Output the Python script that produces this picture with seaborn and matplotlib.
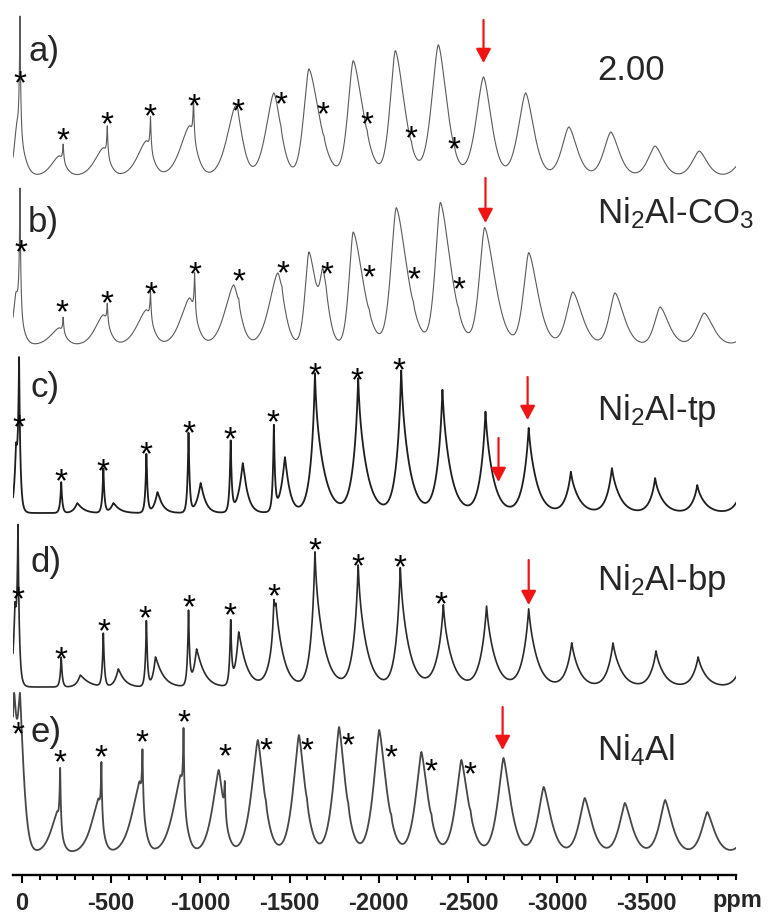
import numpy as np
import pandas as pd
import matplotlib
matplotlib.use("Agg")
import matplotlib.pyplot as plt
from matplotlib.ticker import MultipleLocator
from matplotlib.textpath import TextPath
from matplotlib.font_manager import FontProperties
import seaborn as sns

# ---------------- data (ppm positions, intensities in a.u.) ----------------
tick_vals = [0, -500, -1000, -1500, -2000, -2500, -3000, -3500]
tick_labels = ["0", "-500", "-1000", "-1500", "-2000", "-2500", "-3000", "-3500"]

panel_letters = ["a)", "b)", "c)", "d)", "e)"]
sample_names = ["2.00", r"Ni$_\mathregular{2}$Al-CO$_\mathregular{3}$",
                r"Ni$_\mathregular{2}$Al-tp", r"Ni$_\mathregular{2}$Al-bp",
                r"Ni$_\mathregular{4}$Al"]

# broad sideband envelope: centre, height, left reach, right reach (ppm)
a_bpos = [26, -210, -457, -698, -940, -1198, -1412, -1608, -1856, -2092, -2333, -2586, -2822, -3064, -3299, -3547, -3794, -4035]
a_bh = [52, 20, 28, 35, 50, 70, 83, 107, 115, 125, 131, 99, 83, 49, 44, 30, 25, 15]
a_bwl = [45, 124, 135, 140, 146, 135, 124, 84, 84, 84, 107, 118, 118, 112, 112, 112, 112, 112]
a_bwr = [90, 90, 90, 96, 101, 101, 112, 163, 157, 146, 135, 124, 129, 129, 129, 124, 124, 124]
a_spos = [10, -232, -479, -721, -962, -1210, -1451, -1693, -1934, -2182, -2423]
a_sh = [123, 18, 30, 35, 40, 4, 3, 3, 3, 3, 3]

b_bpos = [32, -210, -457, -698, -940, -1187, -1434, -1608, -1687, -1856, -2097, -2344, -2592, -2839, -3086, -3322, -3575, -3822, -4064]
b_bh = [52, 17, 30, 35, 47, 60, 72, 93, 55, 113, 137, 142, 117, 92, 53, 52, 38, 32, 12]
b_bwl = [45, 135, 129, 146, 140, 140, 135, 62, 45, 67, 84, 79, 84, 84, 101, 90, 90, 112, 101]
b_bwr = [79, 90, 90, 96, 101, 101, 101, 124, 84, 157, 169, 163, 163, 146, 146, 140, 135, 140, 140]
b_spos = [10, -232, -479, -721, -968, -1215, -1457, -1704, -1946, -2193, -2446]
b_sh = [128, 16, 20, 29, 41, 6, 5, 3, 3, 3, 3]

c_bpos = [32, -311, -513, -760, -1002, -1238, -1474, -1642, -1884, -2125, -2356, -2597, -2839, -3075, -3305, -3547, -3783, -4035]
c_bh = [60, 10, 10, 21, 30, 50, 56, 110, 110, 118, 105, 88, 75, 36, 40, 30, 24, 25]
c_bwl = [34, 56, 56, 56, 67, 73, 73, 79, 90, 84, 90, 90, 96, 90, 90, 90, 90, 101]
c_bwr = [45, 101, 101, 84, 79, 79, 79, 146, 140, 135, 135, 129, 135, 135, 135, 135, 135, 135]
c_spos = [15, -221, -457, -698, -934, -1170, -1412, -1642, -1884, -2125, -2356, -2597, -2839, -3075, -3305, -3547, -3783]
c_sh = [136, 31, 45, 59, 81, 72, 86, 30, 25, 25, 18, 13, 10, 5, 5, 5, 4]

d_bpos = [38, -328, -541, -749, -979, -1215, -1423, -1642, -1884, -2120, -2361, -2603, -2839, -3080, -3311, -3552, -3788, -4035]
d_bh = [75, 12, 18, 30, 38, 55, 78, 110, 100, 100, 70, 72, 70, 40, 40, 32, 27, 25]
d_bwl = [34, 56, 56, 45, 56, 56, 90, 73, 84, 79, 107, 101, 101, 96, 96, 96, 96, 101]
d_bwr = [45, 140, 101, 124, 124, 124, 124, 146, 140, 140, 140, 140, 140, 129, 140, 135, 135, 135]
d_spos = [21, -221, -457, -698, -934, -1170, -1412, -1642, -1884, -2120, -2361, -2603, -2839, -3080, -3311, -3552, -3788]
d_sh = [138, 30, 54, 66, 75, 64, 30, 25, 22, 19, 12, 9, 8, 4, 4, 4, 3]

e_bpos = [43, 10, -198, -429, -659, -889, -1103, -1322, -1552, -1777, -2002, -2238, -2462, -2698, -2923, -3153, -3378, -3603, -3839, -4064]
e_bh = [140, 140, 40, 53, 70, 76, 83, 113, 118, 126, 123, 101, 93, 95, 66, 55, 50, 53, 41, 22]
e_bwl = [60, 45, 112, 124, 135, 135, 112, 112, 101, 101, 101, 101, 101, 101, 101, 101, 101, 101, 101, 101]
e_bwr = [45, 67, 67, 67, 73, 79, 90, 112, 112, 112, 124, 118, 124, 124, 124, 124, 124, 124, 124, 124]
e_spos = [-215, -446, -676, -906, -1137, -1367, -1597, -1828, -2069, -2294, -2513]
e_sh = [62, 57, 59, 72, 35, 4, 4, 4, 4, 4, 4]

# asterisk marks (ppm, height above each trace's baseline)
a_star_ppm = [10, -232, -479, -721, -962, -1210, -1451, -1687, -1934, -2182, -2423]
a_star_y = [100, 43, 59, 67, 77, 72, 79, 69, 59, 45, 34]
b_star_ppm = [4, -226, -479, -726, -973, -1215, -1462, -1709, -1946, -2198, -2446]
b_star_y = [100, 40, 49, 58, 78, 71, 79, 78, 75, 73, 63]
c_star_ppm = [15, -221, -457, -698, -934, -1165, -1406, -1642, -1878, -2114]
c_star_y = [93, 39, 49, 66, 87, 81, 98, 145, 140, 150]
d_star_ppm = [21, -221, -462, -693, -934, -1165, -1412, -1642, -1884, -2120, -2350]
d_star_y = [95, 35, 63, 76, 87, 79, 98, 144, 128, 127, 90]
e_star_ppm = [21, -215, -446, -676, -906, -1137, -1367, -1597, -1828, -2069, -2294, -2513]
e_star_y = [126, 98, 103, 118, 138, 104, 110, 110, 115, 103, 89, 86]

# red arrows: trace index, ppm, tail height, tip height
arrow_trace = [0, 1, 2, 2, 3, 4]
arrow_ppm = [-2586, -2597, -2670, -2833, -2839, -2693]
arrow_tail = [156, 167, 75, 136, 127, 146]
arrow_tip = [113, 122, 31, 93, 82, 103]

# ---------------- layout / style ----------------
offsets = [699, 530, 362, 188, 22]
shape_p = [1.6, 1.6, 1.1, 1.1, 1.4]
spike_w = [14, 14, 20, 20, 14]
line_colors = ["#5a5a5a", "#5a5a5a", "#1e1e1e", "#2a2a2a", "#474747"]
line_widths = [0.8, 0.8, 1.3, 1.2, 1.3]

sns.set_theme(style="white")
plt.rcParams["font.family"] = ["Liberation Sans", "DejaVu Sans"]
plt.rcParams["mathtext.fontset"] = "custom"
plt.rcParams["mathtext.rm"] = "Liberation Sans"
plt.rcParams["mathtext.it"] = "Liberation Sans:italic"
plt.rcParams["mathtext.bf"] = "Liberation Sans:bold"

W, H = 770, 917
fig = plt.figure(figsize=(W / 100, H / 100), dpi=100)
ax = fig.add_axes([13 / W, 42 / H, 723 / W, 875 / H])

grid = np.linspace(49, -4080, 8000)


def trace(bpos, bh, bwl, bwr, spos, sh, sw, p):
    y = np.zeros_like(grid)
    for c, h, wl, wr in zip(bpos, bh, bwl, bwr):
        d = grid - c
        w = np.where(d > 0, wl, wr)
        y += h * np.exp(-3 * (np.abs(d) / w) ** p)
    for c, h in zip(spos, sh):
        y += h * np.exp(-3 * np.abs(grid - c) / sw)
    return y


specs = [
    (a_bpos, a_bh, a_bwl, a_bwr, a_spos, a_sh),
    (b_bpos, b_bh, b_bwl, b_bwr, b_spos, b_sh),
    (c_bpos, c_bh, c_bwl, c_bwr, c_spos, c_sh),
    (d_bpos, d_bh, d_bwl, d_bwr, d_spos, d_sh),
    (e_bpos, e_bh, e_bwl, e_bwr, e_spos, e_sh),
]
stars = [(a_star_ppm, a_star_y), (b_star_ppm, b_star_y), (c_star_ppm, c_star_y),
         (d_star_ppm, d_star_y), (e_star_ppm, e_star_y)]

for i, sp in enumerate(specs):
    y = trace(*sp, spike_w[i], shape_p[i]) + offsets[i]
    df = pd.DataFrame({"ppm": grid, "I": y})
    sns.lineplot(data=df, x="ppm", y="I", ax=ax, sort=False, estimator=None,
                 color=line_colors[i], lw=line_widths[i], zorder=2)

# asterisks as text glyphs, vertically centred on the glyph ink
tp = TextPath((0, 0), "*", size=1, prop=FontProperties(family="Liberation Sans"))
bb = tp.get_extents()
star_px = 12.0
star_fs_px = star_px / bb.width           # em size in pixels
star_fs_pt = star_fs_px * 0.72
star_dy = (bb.y0 + bb.y1) / 2 * star_fs_px  # glyph centre above baseline (px)

for i, (sx, sy) in enumerate(stars):
    for xv, yv in zip(sx, sy):
        ax.text(xv, yv + offsets[i] - star_dy, "*", fontsize=star_fs_pt,
                ha="center", va="baseline", color="black", zorder=4)

for t, xp, y0, y1 in zip(arrow_trace, arrow_ppm, arrow_tail, arrow_tip):
    ax.annotate("", xy=(xp, y1 + offsets[t]), xytext=(xp, y0 + offsets[t]),
                arrowprops=dict(arrowstyle="-|>,head_length=0.85,head_width=0.45",
                                color="#f01414", lw=1.6, shrinkA=0, shrinkB=0,
                                mutation_scale=10), zorder=5)

ax.set_xlim(49, -4000)
ax.set_ylim(0, 875)
ax.set_xlabel("")
ax.set_ylabel("")
ax.set_yticks([])
for s in ["left", "right", "top"]:
    ax.spines[s].set_visible(False)
ax.spines["bottom"].set_linewidth(1.7)
ax.spines["bottom"].set_color("black")
ax.set_xticks(tick_vals)
ax.set_xticklabels(tick_labels, fontsize=17, fontweight="bold")
ax.xaxis.set_minor_locator(MultipleLocator(100))
ax.tick_params(axis="x", which="major", direction="out", length=6, width=1.5,
               pad=6.5, bottom=True, color="black")
ax.tick_params(axis="x", which="minor", direction="out", length=3.6, width=1.5,
               bottom=True, color="black")
ax.patch.set_alpha(0)

# panel letters and sample names (figure pixel positions)
letter_pos = [(29, 61), (28, 232), (30, 397), (30, 572), (30, 742)]
name_pos = [(597, 80), (597, 223), (597, 420), (597, 590), (597, 760)]
for (lx, ly), t in zip(letter_pos, panel_letters):
    fig.text(lx / W, 1 - ly / H, t, fontsize=25, va="baseline", ha="left")
for (nx, ny), t in zip(name_pos, sample_names):
    fig.text(nx / W, 1 - ny / H, t, fontsize=25, va="baseline", ha="left")
fig.text(712 / W, 1 - 907 / H, "ppm", fontsize=17, fontweight="bold",
         va="baseline", ha="left")

fig.savefig("out.png", dpi=100)
